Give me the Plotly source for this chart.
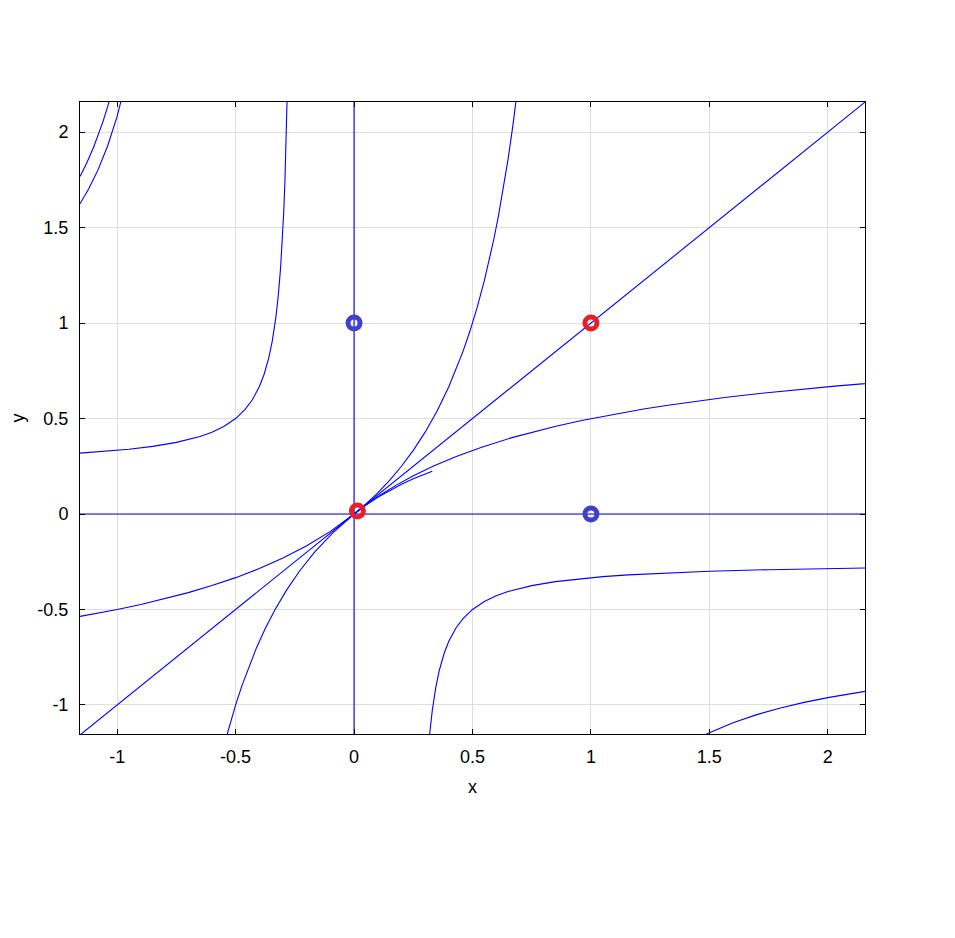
import plotly.graph_objects as go

# ---- data ----
# straight trajectories
line_v_x = [0.0, 0.0]
line_v_y = [-1.157, 2.157]
line_h_x = [-1.157, 2.157]
line_h_y = [0.0, 0.0]
diag_x = [-1.157, 2.157]
diag_y = [-1.157, 2.157]

# steep curve through origin (flat in lower-left, steep in upper-right)
curveA_x = [-1.157, -1.1, -1.0, -0.9, -0.8, -0.7, -0.6, -0.5, -0.4, -0.3, -0.2, -0.1, 0.0,
            0.05, 0.1, 0.15, 0.2, 0.25, 0.3, 0.35, 0.4, 0.43, 0.46, 0.49, 0.52, 0.55, 0.57,
            0.59, 0.61, 0.63, 0.65, 0.67, 0.69]
curveA_y = [-0.5364, -0.5238, -0.5, -0.4737, -0.4444, -0.4118, -0.375, -0.3333, -0.2857, -0.2308,
            -0.1667, -0.0909, 0.0, 0.0526, 0.1111, 0.1765, 0.25, 0.3333, 0.4286, 0.5385, 0.6667,
            0.7544, 0.8519, 0.9608, 1.0833, 1.2222, 1.3256, 1.4390, 1.5641, 1.7027, 1.8571,
            2.0303, 2.2258]

# flat curve through origin (steep in lower-left, flat in upper-right)
curveB_x = [-0.5364, -0.5238, -0.5, -0.4737, -0.4444, -0.4118, -0.375, -0.3333, -0.2857, -0.2308,
            -0.1667, -0.0909, 0.0, 0.0526, 0.1111, 0.1765, 0.25, 0.3333, 0.4286, 0.5385, 0.6667,
            0.7544, 0.8519, 0.9608, 1.0833, 1.2222, 1.3256, 1.4390, 1.5641, 1.7027, 1.8571,
            2.0303, 2.2258]
curveB_y = [-1.157, -1.1, -1.0, -0.9, -0.8, -0.7, -0.6, -0.5, -0.4, -0.3, -0.2, -0.1, 0.0,
            0.05, 0.1, 0.15, 0.2, 0.25, 0.3, 0.35, 0.4, 0.43, 0.46, 0.49, 0.52, 0.55, 0.57,
            0.59, 0.61, 0.63, 0.65, 0.67, 0.69]

# upper-left hyperbola branch
curveC_x = [-1.157, -1.05, -0.95, -0.85, -0.75, -0.65, -0.6, -0.55, -0.5, -0.46, -0.43, -0.4,
            -0.38, -0.36, -0.345, -0.33, -0.32, -0.31, -0.303, -0.297, -0.292, -0.288, -0.285, -0.282]
curveC_y = [0.3189, 0.3281, 0.3393, 0.3542, 0.375, 0.4063, 0.4286, 0.4583, 0.5, 0.5476, 0.5972,
            0.6667, 0.7308, 0.8182, 0.9079, 1.0313, 1.1429, 1.2917, 1.4292, 1.5798, 1.7381,
            1.8947, 2.0357, 2.2031]

# lower-right hyperbola branch
curveD_x = [0.282, 0.285, 0.288, 0.292, 0.297, 0.303, 0.31, 0.32, 0.33, 0.345, 0.36, 0.38, 0.4,
            0.43, 0.46, 0.5, 0.55, 0.6, 0.65, 0.75, 0.85, 0.95, 1.05, 1.157, 1.3, 1.5, 1.75,
            2.0, 2.157]
curveD_y = [-2.2031, -2.0357, -1.8947, -1.7381, -1.5798, -1.4292, -1.2917, -1.1429, -1.0313,
            -0.9079, -0.8182, -0.7308, -0.6667, -0.5972, -0.5476, -0.5, -0.4583, -0.4286,
            -0.4063, -0.375, -0.3542, -0.3393, -0.3281, -0.3189, -0.3095, -0.3, -0.2917,
            -0.2857, -0.2828]

# upper-left corner curves
curveE_x = [-1.157, -1.13, -1.10, -1.08, -1.06, -1.04, -1.02]
curveE_y = [1.768, 1.8347, 1.9197, 1.9838, 2.0551, 2.1346, 2.2242]
curveF_x = [-1.157, -1.12, -1.08, -1.04, -1.0, -0.98, -0.96]
curveF_y = [1.625, 1.7032, 1.8048, 1.9288, 2.0833, 2.1758, 2.2814]

# lower-right corner curve
curveG_x = [1.44, 1.5, 1.6, 1.7, 1.8, 1.9, 2.0, 2.1, 2.157]
curveG_y = [-1.1827, -1.145, -1.0929, -1.0507, -1.0158, -0.9865, -0.9615, -0.94, -0.929]

# short segment near origin (upper right)
curveH_x = [0.0, 0.05, 0.1, 0.15, 0.2, 0.25, 0.3, 0.33]
curveH_y = [0.0, 0.0467, 0.0875, 0.1235, 0.1555, 0.1842, 0.2099, 0.2243]

# equilibrium points
red_x = [0.014, 1.0]
red_y = [0.016, 1.0]
blue_x = [0.0, 1.0]
blue_y = [1.0, 0.0]

x_ticks = [-1, -0.5, 0, 0.5, 1, 1.5, 2]
y_ticks = [-1, -0.5, 0, 0.5, 1, 1.5, 2]
x_tick_text = ["-1", "-0.5", "0", "0.5", "1", "1.5", "2"]
y_tick_text = ["-1", "-0.5", "0", "0.5", "1", "1.5", "2"]

FONT = "Arial, Liberation Sans, sans-serif"

fig = go.Figure()
blue = "rgb(0,0,255)"
curves = [
    (curveA_x, curveA_y), (curveB_x, curveB_y),
    (curveC_x, curveC_y), (curveD_x, curveD_y),
    (curveE_x, curveE_y), (curveF_x, curveF_y),
    (curveG_x, curveG_y), (curveH_x, curveH_y),
    (diag_x, diag_y), (line_v_x, line_v_y), (line_h_x, line_h_y),
]
for cx, cy in curves:
    fig.add_trace(go.Scatter(x=cx, y=cy, mode="lines",
                             line=dict(color=blue, width=1.1),
                             hoverinfo="skip", showlegend=False))

fig.add_trace(go.Scatter(x=blue_x, y=blue_y, mode="markers",
                         marker=dict(symbol="circle-open", size=12, color="rgb(64,64,204)",
                                     line=dict(color="rgb(64,64,204)", width=5)),
                         showlegend=False, cliponaxis=False, hoverinfo="skip"))
fig.add_trace(go.Scatter(x=red_x, y=red_y, mode="markers",
                         marker=dict(symbol="circle-open", size=12, color="rgb(232,30,40)",
                                     line=dict(color="rgb(232,30,40)", width=5)),
                         showlegend=False, cliponaxis=False, hoverinfo="skip"))

axis_common = dict(
    showline=True, linecolor="black", linewidth=1, mirror="ticks",
    ticks="inside", ticklen=5, tickcolor="black", tickwidth=1,
    showgrid=True, gridcolor="rgb(222,222,222)", gridwidth=1,
    zeroline=False,
    tickfont=dict(family=FONT, size=18, color="black"),
)
fig.update_xaxes(range=[-1.157, 2.157], tickvals=x_ticks, ticktext=x_tick_text,
                 ticklabelstandoff=6,
                 title=dict(text="x", font=dict(family=FONT, size=18, color="black"),
                            standoff=14),
                 **axis_common)
fig.update_yaxes(range=[-1.1522, 2.1578], tickvals=y_ticks, ticktext=y_tick_text,
                 ticklabelstandoff=7,
                 title=dict(text="y", font=dict(family=FONT, size=18, color="black"),
                            standoff=14),
                 **axis_common)

fig.update_layout(
    width=955, height=938,
    margin=dict(l=72, r=98, t=94, b=212, autoexpand=False),
    plot_bgcolor="white", paper_bgcolor="white",
    showlegend=False,
)

fig.write_html("out.html")
